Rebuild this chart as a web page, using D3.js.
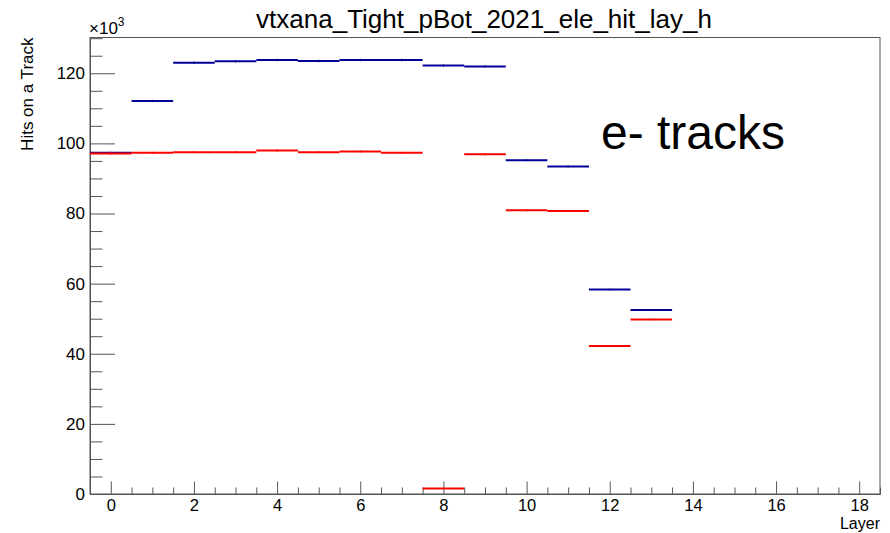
<!DOCTYPE html>
<html>
<head>
<meta charset="utf-8">
<script src="https://cdn.jsdelivr.net/npm/d3@7"></script>
<style>
  html, body { margin: 0; padding: 0; background: #fff; }
  svg { display: block; font-family: "Liberation Sans", Arial, Helvetica, sans-serif; }
</style>
</head>
<body>
<svg id="chart" width="890" height="533"></svg>
<script>
// Layer index of each bin (bin width 1, centred on the integer)
const layers = [0, 1, 2, 3, 4, 5, 6, 7, 8, 9, 10, 11, 12, 13];
// Hits on a track per layer, in units of 10^3
const hitsBlue = [97.3, 112.1, 123.0, 123.4, 123.8, 123.5, 123.8, 123.8, 122.2, 121.9, 95.2, 93.4, 58.3, 52.5];
const hitsRed  = [97.1, 97.3, 97.5, 97.5, 98.0, 97.5, 97.7, 97.3, 1.6, 96.9, 80.9, 80.7, 42.2, 49.8];
// Axis tick labels
const xTickValues = [0, 2, 4, 6, 8, 10, 12, 14, 16, 18];
const yTickValues = [0, 20, 40, 60, 80, 100, 120];

const titleText = "vtxana_Tight_pBot_2021_ele_hit_lay_h";
const xTitle = "Layer";
const yTitle = "Hits on a Track";
const annotation = "e- tracks";

const svg = d3.select("#chart");
const frame = { left: 90, right: 880, top: 37.5, bottom: 494 };

const x = d3.scaleLinear().domain([-0.5, 18.5]).range([frame.left, frame.right]);
const y = d3.scaleLinear().domain([0, 130.2]).range([frame.bottom, frame.top]);

const axisColor = "#555";
const labelFont = "Liberation Sans, Arial, sans-serif";

// Frame
svg.append("rect")
  .attr("x", frame.left).attr("y", frame.top)
  .attr("width", frame.right - frame.left).attr("height", frame.bottom - frame.top)
  .attr("fill", "none").attr("stroke", axisColor).attr("stroke-width", 1);

// X axis: major ticks every 2, minor every 0.5
const xMinor = d3.range(-0.5, 18.51, 0.5).filter(v => !xTickValues.includes(v));
const xAxisMajor = d3.axisBottom(x).tickValues(xTickValues).tickSizeInner(-12.5).tickSizeOuter(0).tickPadding(5).tickFormat(d3.format("d"));
const xAxisMinor = d3.axisBottom(x).tickValues(xMinor).tickSizeInner(-6.5).tickSizeOuter(0).tickFormat("");
const gxm = svg.append("g").attr("transform", `translate(0,${frame.bottom})`).call(xAxisMinor);
const gx = svg.append("g").attr("transform", `translate(0,${frame.bottom})`).call(xAxisMajor);
[gx, gxm].forEach(g => {
  g.select(".domain").attr("stroke", axisColor);
  g.selectAll(".tick line").attr("stroke", axisColor);
});
gx.selectAll(".tick text").attr("font-size", 16.5).attr("fill", "#000").attr("font-family", labelFont);

// Y axis: major ticks every 20, minor every 5
const yMinor = d3.range(0, 130.01, 5).filter(v => !yTickValues.includes(v));
const yAxisMajor = d3.axisLeft(y).tickValues(yTickValues).tickSizeInner(-25).tickSizeOuter(0).tickPadding(5).tickFormat(d3.format("d"));
const yAxisMinor = d3.axisLeft(y).tickValues(yMinor).tickSizeInner(-12.5).tickSizeOuter(0).tickFormat("");
const gym = svg.append("g").attr("transform", `translate(${frame.left},0)`).call(yAxisMinor);
const gy = svg.append("g").attr("transform", `translate(${frame.left},0)`).call(yAxisMajor);
[gy, gym].forEach(g => {
  g.select(".domain").attr("stroke", axisColor);
  g.selectAll(".tick line").attr("stroke", axisColor);
});
gy.selectAll(".tick text").attr("font-size", 17).attr("fill", "#000").attr("font-family", labelFont);

// Exponent label on the y axis
const expo = svg.append("text").attr("x", frame.left - 1).attr("y", 34)
  .attr("font-size", 17).attr("fill", "#000");
expo.append("tspan").text("\u00d710");
expo.append("tspan").attr("dy", -8).attr("font-size", 12).text("3");

// Histogram series: horizontal bin segment plus statistical error bar
function drawHist(values, color) {
  const g = svg.append("g");
  const data = layers.map((l, i) => ({ layer: l, v: values[i] })).filter(d => d.v > 0);
  g.selectAll("line.bin").data(data).join("line")
    .attr("class", "bin")
    .attr("x1", d => x(d.layer - 0.5)).attr("x2", d => x(d.layer + 0.5))
    .attr("y1", d => y(d.v)).attr("y2", d => y(d.v))
    .attr("stroke", color).attr("stroke-width", 2);
  g.selectAll("line.err").data(data).join("line")
    .attr("class", "err")
    .attr("x1", d => x(d.layer)).attr("x2", d => x(d.layer))
    .attr("y1", d => y(d.v - Math.sqrt(d.v * 1000) / 1000))
    .attr("y2", d => y(d.v + Math.sqrt(d.v * 1000) / 1000))
    .attr("stroke", color).attr("stroke-width", 1);
}
drawHist(hitsBlue, "#000099");
drawHist(hitsRed, "#ff0000");

// Titles
svg.append("text").attr("x", 484).attr("y", 28).attr("text-anchor", "middle")
  .attr("font-size", 26).attr("fill", "#000").text(titleText);
svg.append("text").attr("x", frame.right).attr("y", 529).attr("text-anchor", "end")
  .attr("font-size", 16).attr("fill", "#000").text(xTitle);
svg.append("text").attr("transform", `translate(33,${frame.top}) rotate(-90)`)
  .attr("text-anchor", "end").attr("font-size", 17).attr("fill", "#000").text(yTitle);

// Annotation
svg.append("text").attr("x", 601).attr("y", 149).attr("font-size", 48)
  .attr("fill", "#000").text(annotation);
</script>
</body>
</html>
